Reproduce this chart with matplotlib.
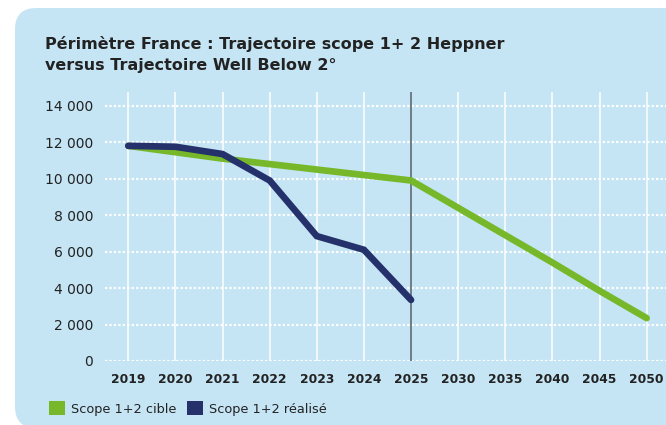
import matplotlib
matplotlib.use("Agg")
import matplotlib.pyplot as plt
from matplotlib.patches import FancyBboxPatch, Patch

# ---- data ----
categories = ["2019", "2020", "2021", "2022", "2023", "2024", "2025",
              "2030", "2035", "2040", "2045", "2050"]
cible = [11800, 11450, 11100, 10800, 10500, 10200, 9900,
         8400, 6900, 5400, 3850, 2350]
realise = [11800, 11750, 11350, 9900, 6850, 6100, 3350]
yticks = [0, 2000, 4000, 6000, 8000, 10000, 12000, 14000]
ytick_labels = ["0", "2 000", "4 000", "6 000", "8 000", "10 000", "12 000", "14 000"]
title_lines = ["Périmètre France : Trajectoire scope 1+ 2 Heppner",
               "versus Trajectoire Well Below 2°"]
legend_labels = ["Scope 1+2 cible", "Scope 1+2 réalisé"]

# ---- style ----
BG = "#C5E5F5"
GREEN = "#76B82A"
NAVY = "#25316B"
TXT = "#222222"
W, H = 666, 425

plt.rcParams["font.family"] = ["DejaVu Sans"]
fig = plt.figure(figsize=(W / 100, H / 100), dpi=100)
fig.patch.set_facecolor("white")

# rounded panel (top edge at 8 px, left edge at 15 px)
panel = FancyBboxPatch((15 / W, (H - 428) / H), 700 / W, 420 / H,
                       boxstyle="round,pad=0,rounding_size=0.032",
                       transform=fig.transFigure, facecolor=BG,
                       edgecolor="none", mutation_aspect=W / H, zorder=-10)
fig.patches.append(panel)

ax = fig.add_axes([105 / W, (H - 361) / H, 1 - 105 / W, (361 - 91.7) / H])
ax.set_zorder(2)
ax.set_facecolor("none")
x = list(range(len(categories)))

# grid
for xi in x:
    ax.axvline(xi, color="white", lw=1.1, zorder=1)
for yv in yticks:
    ax.axhline(yv, color="white", lw=1.6, ls=(0, (1, 1)), zorder=1)
ax.axvline(categories.index("2025"), color="#66737C", lw=1.3, zorder=2)

ax.plot(x, cible, color=GREEN, lw=4.8, solid_capstyle="round",
        solid_joinstyle="miter", zorder=3)
ax.plot(x[:len(realise)], realise, color=NAVY, lw=4.8, solid_capstyle="round",
        solid_joinstyle="miter", zorder=4)

ax.set_xlim(-0.494, 11.41)
ax.set_ylim(0, 14770)
ax.set_xticks(x)
ax.set_xticklabels(categories, fontsize=8.8, fontweight="bold", color=TXT)
ax.set_yticks(yticks)
ax.set_yticklabels(ytick_labels, fontsize=10, color=TXT)
ax.tick_params(axis="both", length=0)
ax.tick_params(axis="y", pad=8.6)
ax.tick_params(axis="x", pad=8.3)
for s in ax.spines.values():
    s.set_visible(False)

for i, line in enumerate(title_lines):
    fig.text(45 / W, 1 - (49 + 21 * i) / H, line, fontsize=11.5,
             fontweight="bold", color=TXT, ha="left", va="baseline")

handles = [Patch(facecolor=GREEN, edgecolor="none"),
           Patch(facecolor=NAVY, edgecolor="none")]
leg = fig.legend(handles, legend_labels, loc="center left",
                 bbox_to_anchor=(45 / W, 1 - 408.5 / H), ncol=2, frameon=False,
                 fontsize=9.3, handlelength=1.25, handleheight=1.25,
                 handletextpad=0.45, columnspacing=0.8, borderaxespad=0,
                 borderpad=0.3)
for t in leg.get_texts():
    t.set_color(TXT)
    t.set_fontweight("medium")

fig.savefig("out.png", dpi=100, facecolor="white")
